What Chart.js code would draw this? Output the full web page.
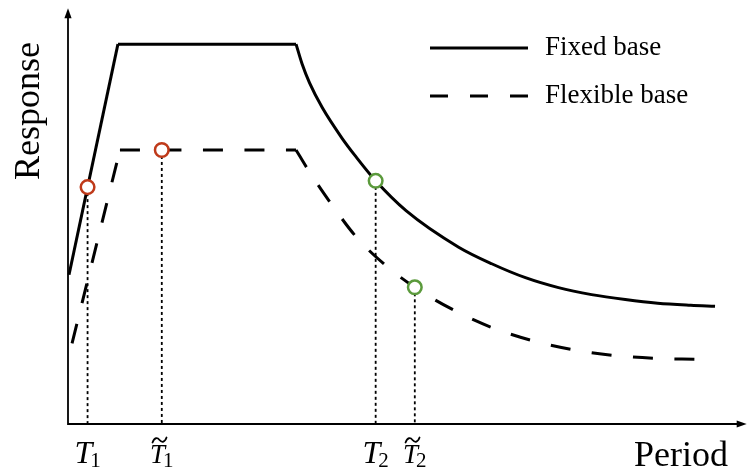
<!DOCTYPE html>
<html>
<head>
<meta charset="utf-8">
<title>Response spectrum</title>
<script src="https://cdn.jsdelivr.net/npm/chart.js@4.4.1/dist/chart.umd.min.js"></script>
<style>
  html, body { margin: 0; padding: 0; background: #fff; }
  #wrap { width: 752px; height: 474px; }
</style>
</head>
<body>
<div id="wrap"><canvas id="spectrum" width="752" height="474"></canvas></div>
<script>
// Fixed base spectrum: linear rise + plateau, then the descending branch
const fixedRisePeriod = [0.015, 0.74, 3.38];
const fixedRiseResponse = [0.45, 1.145, 1.145];
const fixedDecayPeriod = [3.38, 3.47, 3.58, 3.77, 4.06, 4.27, 4.56, 5.01, 5.79, 6.28, 6.78, 7.27, 7.76, 8.26, 8.74, 9.23, 9.59];
const fixedDecayResponse = [1.145, 1.085, 1.028, 0.953, 0.862, 0.805, 0.733, 0.643, 0.533, 0.483, 0.441, 0.411, 0.390, 0.375, 0.364, 0.358, 0.355];

// Flexible base spectrum
const flexRisePeriod = [0.06, 0.77, 3.38];
const flexRiseResponse = [0.243, 0.826, 0.826];
const flexDecayPeriod = [3.38, 3.55, 3.90, 4.28, 4.71, 5.14, 5.72, 6.28, 6.87, 7.46, 8.08, 8.70, 9.31];
const flexDecayResponse = [0.826, 0.769, 0.664, 0.562, 0.478, 0.412, 0.343, 0.291, 0.252, 0.225, 0.207, 0.198, 0.195];

// marked periods
const markerPeriods = [0.29, 1.39, 4.56, 5.14];
const markerResponses = [0.714, 0.826, 0.733, 0.412];
const markerLabels = ['T\u2081', 'T\u0303\u2081', 'T\u2082', 'T\u0303\u2082'];
const markerColors = ['#bf3a1a', '#bf3a1a', '#5b9a3c', '#5b9a3c'];

const seriesNames = ['Fixed base', 'Flexible base'];
const axisTitles = { x: 'Period', y: 'Response' };

const SERIF = '"Liberation Serif", "Times New Roman", serif';
const DASH = [20, 21.5];

function points(xs, ys) {
    return xs.map((x, i) => ({ x: x, y: ys[i] }));
}

function curve(label, data, dash, smooth) {
    return {
        label: label,
        data: data,
        borderColor: '#000',
        borderWidth: 3,
        borderDash: dash,
        borderCapStyle: 'butt',
        pointRadius: 0,
        fill: false,
        cubicInterpolationMode: smooth ? 'monotone' : 'default',
        tension: 0,
        order: 2
    };
}

// straight pieces are stroked one by one so each starts with a fresh dash
function spectrum(label, riseX, riseY, decayX, decayY, dash) {
    const rise = points(riseX, riseY);
    const out = [];
    for (let i = 0; i < rise.length - 1; i++) {
        out.push(curve(i === 0 ? label : null, [rise[i], rise[i + 1]], dash, false));
    }
    out.push(curve(null, points(decayX, decayY), dash, true));
    return out;
}

const datasets = [
    {
        label: 'markers',
        data: points(markerPeriods, markerResponses),
        showLine: false,
        pointRadius: 6.8,
        pointBorderWidth: 2.5,
        pointBackgroundColor: '#fff',
        pointBorderColor: markerColors,
        order: 0
    },
    ...spectrum(seriesNames[0], fixedRisePeriod, fixedRiseResponse, fixedDecayPeriod, fixedDecayResponse, []),
    ...spectrum(seriesNames[1], flexRisePeriod, flexRiseResponse, flexDecayPeriod, flexDecayResponse, DASH)
];

// dotted drop lines from each marker to the period axis
markerPeriods.forEach((t, i) => {
    datasets.push({
        label: null,
        data: [{ x: t, y: markerResponses[i] }, { x: t, y: 0 }],
        borderColor: '#000',
        borderWidth: 1.8,
        borderDash: [3, 3],
        pointRadius: 0,
        order: 3
    });
});

const subDigits = { '\u2081': '1', '\u2082': '2' };

function drawPeriodLabel(ctx, text, cx) {
    const tilde = text.indexOf('\u0303') >= 0;
    const sub = subDigits[text[text.length - 1]];
    const big = tilde ? 27 : 32;
    ctx.font = 'italic ' + big + 'px ' + SERIF;
    const wT = ctx.measureText('T').width;
    ctx.font = '21px ' + SERIF;
    const wS = ctx.measureText(sub).width;
    const x0 = cx - (wT + wS - 2) / 2;
    const base = 463;
    ctx.textAlign = 'left';
    ctx.textBaseline = 'alphabetic';
    ctx.font = 'italic ' + big + 'px ' + SERIF;
    ctx.fillText('T', x0, base);
    ctx.font = '21px ' + SERIF;
    ctx.fillText(sub, x0 + wT - 2, base + 4);
    if (tilde) {
        // wavy accent above the letter
        const tx = x0 + wT / 2 + 2;
        const ty = 440;
        ctx.save();
        ctx.lineWidth = 1.8;
        ctx.lineCap = 'round';
        ctx.beginPath();
        ctx.moveTo(tx - 7, ty + 2.5);
        ctx.bezierCurveTo(tx - 5, ty - 3, tx - 2, ty - 2.5, tx, ty);
        ctx.bezierCurveTo(tx + 2, ty + 2.5, tx + 5, ty + 3, tx + 7, ty - 2.5);
        ctx.stroke();
        ctx.restore();
    }
}

const spectrumFrame = {
    id: 'spectrumFrame',
    beforeDatasetsDraw(chart) {
        const { ctx, chartArea: a } = chart;
        ctx.save();
        ctx.strokeStyle = '#000';
        ctx.fillStyle = '#000';
        ctx.lineWidth = 1.8;
        ctx.beginPath();
        ctx.moveTo(a.left, a.top + 6);
        ctx.lineTo(a.left, a.bottom);
        ctx.lineTo(a.right - 2, a.bottom);
        ctx.stroke();
        // arrow heads
        ctx.beginPath();
        ctx.moveTo(a.left, a.top - 1);
        ctx.lineTo(a.left - 3.6, a.top + 9);
        ctx.lineTo(a.left + 3.6, a.top + 9);
        ctx.closePath();
        ctx.fill();
        ctx.beginPath();
        ctx.moveTo(a.right + 4, a.bottom);
        ctx.lineTo(a.right - 6, a.bottom - 3.6);
        ctx.lineTo(a.right - 6, a.bottom + 3.6);
        ctx.closePath();
        ctx.fill();
        ctx.restore();
    },
    afterDraw(chart) {
        const { ctx, scales } = chart;
        ctx.save();
        ctx.fillStyle = '#000';
        ctx.strokeStyle = '#000';

        // period labels under the axis
        markerLabels.forEach((txt, i) => {
            drawPeriodLabel(ctx, txt, scales.x.getPixelForValue(markerPeriods[i]));
        });

        // axis titles
        ctx.font = '36px ' + SERIF;
        ctx.textAlign = 'right';
        ctx.textBaseline = 'alphabetic';
        ctx.fillText(axisTitles.x, 728, 466);
        ctx.save();
        ctx.translate(39, 111);
        ctx.rotate(-Math.PI / 2);
        ctx.textAlign = 'center';
        ctx.fillText(axisTitles.y, 0, 0);
        ctx.restore();

        // legend
        const rows = [
            { name: seriesNames[0], dash: [], y: 48 },
            { name: seriesNames[1], dash: [18, 22], y: 96 }
        ];
        ctx.font = '27px ' + SERIF;
        ctx.textAlign = 'left';
        ctx.textBaseline = 'middle';
        rows.forEach(r => {
            ctx.lineWidth = 3;
            ctx.setLineDash(r.dash);
            ctx.beginPath();
            ctx.moveTo(430, r.y);
            ctx.lineTo(528, r.y);
            ctx.stroke();
            ctx.setLineDash([]);
            ctx.fillText(r.name, 545, r.y);
        });
        ctx.restore();
    }
};

new Chart(document.getElementById('spectrum').getContext('2d'), {
    type: 'line',
    data: { datasets: datasets },
    options: {
        responsive: false,
        animation: false,
        layout: { padding: { left: 68, right: 7, top: 8, bottom: 50 } },
        scales: {
            x: { type: 'linear', min: 0, max: 10, display: false },
            y: { type: 'linear', min: 0, max: 1.25, display: false }
        },
        plugins: {
            legend: { display: false },
            tooltip: { enabled: false }
        },
        datasets: { line: { clip: false } }
    },
    plugins: [spectrumFrame]
});
</script>
</body>
</html>
